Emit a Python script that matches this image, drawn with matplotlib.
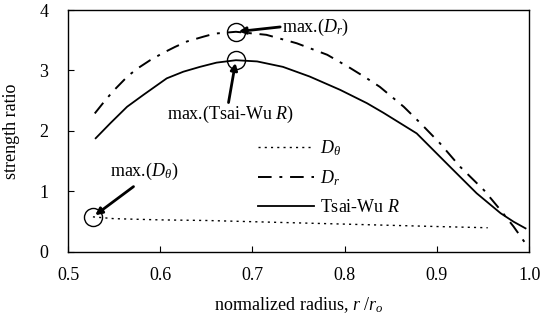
import numpy as np
import matplotlib
matplotlib.use("Agg")
import matplotlib.pyplot as plt

plt.rcParams["font.family"] = ["Liberation Serif", "DejaVu Serif"]
plt.rcParams["mathtext.fontset"] = "custom"
plt.rcParams["mathtext.rm"] = "Liberation Serif"
plt.rcParams["mathtext.it"] = "Liberation Serif:italic"

# normalized radius r/r_o and strength ratios
r_theta = [0.527, 0.55, 0.60, 0.65, 0.70, 0.75, 0.80, 0.85, 0.90, 0.955]
d_theta = [0.58, 0.55, 0.53, 0.52, 0.50, 0.48, 0.46, 0.44, 0.42, 0.40]

r_r = [0.529, 0.540, 0.549, 0.565, 0.576, 0.589, 0.603, 0.616, 0.629, 0.647,
       0.659, 0.682, 0.715, 0.748, 0.781, 0.806, 0.824, 0.838, 0.864, 0.882,
       0.903, 0.925, 0.951, 0.969, 0.983, 0.996]
d_r = [2.29, 2.50, 2.66, 2.91, 3.04, 3.17, 3.29, 3.39, 3.48, 3.56,
       3.61, 3.64, 3.59, 3.45, 3.26, 3.04, 2.87, 2.73, 2.40, 2.13,
       1.80, 1.41, 1.02, 0.69, 0.42, 0.14]

r_tw = [0.530, 0.546, 0.564, 0.582, 0.607, 0.625, 0.643, 0.661, 0.682, 0.705,
        0.733, 0.762, 0.795, 0.824, 0.842, 0.878, 0.914, 0.943, 0.969, 0.983,
        0.996]
tsai_wu = [1.88, 2.13, 2.40, 2.60, 2.87, 2.98, 3.06, 3.13, 3.17, 3.15,
           3.06, 2.90, 2.68, 2.46, 2.30, 1.96, 1.41, 0.97, 0.64, 0.50,
           0.39]

fig = plt.figure(figsize=(5.53, 3.23), dpi=100)
ax = fig.add_axes([0.123, 0.22, 0.834, 0.749])

ax.plot(r_theta, d_theta, color="black", lw=1.0, ls=(0, (1.5, 3)),
        label=r"$D_\theta$")
ax.plot(r_r, d_r, color="black", lw=1.4, ls=(0, (7, 4, 1.5, 4)),
        label=r"$D_r$")
ax.plot(r_tw, tsai_wu, color="black", lw=1.3, label=r"Tsai-Wu $R$")

# circle the maximum of each curve and point at it from its label
arrow = dict(arrowstyle="-|>", color="black", lw=2, mutation_scale=10,
             shrinkA=0, shrinkB=2)
series = [
    (r_r, d_r, (0.730, 3.72)),
    (r_tw, tsai_wu, (0.674, 2.47)),
    (r_theta, d_theta, (0.571, 1.08)),
]
for xs, ys, tail in series:
    i = int(np.argmax(ys))
    ax.plot(xs[i], ys[i], "o", ms=13, mfc="none", mec="black", mew=1.0)
    ax.annotate("", xy=(xs[i], ys[i]), xytext=tail, arrowprops=arrow)

ax.text(0.732, 3.72, r"max.($D_r$)", fontsize=13, va="center", ha="left")
ax.text(0.676, 2.44, r"max.(Tsai-Wu $R$)", fontsize=13, va="top", ha="center")
ax.text(0.583, 1.16, r"max.($D_\theta$)", fontsize=13, va="bottom", ha="center")

ax.set_xlim(0.5, 1.0)
ax.set_ylim(0, 4)
ax.set_xticks([0.5, 0.6, 0.7, 0.8, 0.9, 1.0])
ax.set_xticklabels(["0.5", "0.6", "0.7", "0.8", "0.9", "1.0"])
ax.set_yticks([0, 1, 2, 3, 4])
ax.tick_params(direction="in", length=4, width=0.8, labelsize=13)
ax.tick_params(axis="x", pad=11)
ax.tick_params(axis="y", pad=14)
for s in ax.spines.values():
    s.set_linewidth(1.0)

ax.set_xlabel(r"normalized radius, $r$ /$r_o$", fontsize=13, labelpad=8)
ax.set_ylabel("strength ratio", fontsize=13, labelpad=14)

ax.legend(loc="upper left", bbox_to_anchor=(0.397, 0.50), frameon=False,
          fontsize=13, handlelength=3.1, handletextpad=0.3,
          labelspacing=0.6, borderaxespad=0)

fig.savefig("out.png", dpi=100)
